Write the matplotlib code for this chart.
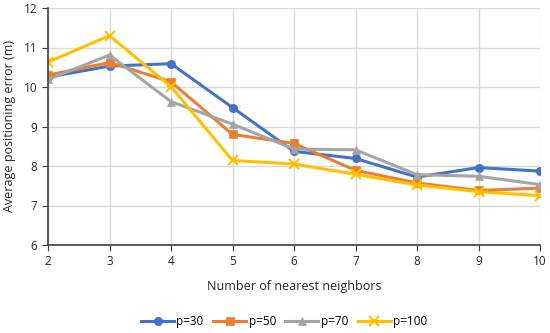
import matplotlib
matplotlib.use("Agg")
import matplotlib.pyplot as plt

neighbors = [2, 3, 4, 5, 6, 7, 8, 9, 10]
p30 = [10.25, 10.53, 10.59, 9.48, 8.37, 8.19, 7.72, 7.96, 7.87]
p50 = [10.30, 10.62, 10.13, 8.80, 8.57, 7.89, 7.57, 7.38, 7.44]
p70 = [10.19, 10.81, 9.63, 9.06, 8.43, 8.41, 7.78, 7.74, 7.53]
p100 = [10.63, 11.30, 10.01, 8.14, 8.05, 7.79, 7.52, 7.35, 7.25]
labels = ["p=30", "p=50", "p=70", "p=100"]
colors = ["#4472C4", "#ED7D31", "#A5A5A5", "#FFC000"]
markers = ["o", "s", "^", "x"]

plt.rcParams['font.family'] = ['Open Sans', 'DejaVu Sans']
fig = plt.figure(figsize=(5.5, 3.33), dpi=100)
ax = fig.add_axes([48/550, 1-245/333, 492/550, 237/333])

for ys, lab, c, m in zip([p30, p50, p70, p100], labels, colors, markers):
    ax.plot(neighbors, ys, color=c, lw=2.2, marker=m, markersize=6 if m != "x" else 7,
            markeredgewidth=1.5 if m == "x" else 0.5, markeredgecolor=c, label=lab)

ax.set_xlim(2, 10)
ax.set_ylim(6, 12)
ax.set_xticks(neighbors)
ax.set_yticks([6, 7, 8, 9, 10, 11, 12])
ax.grid(True, color="#D9D9D9", lw=1)
ax.set_axisbelow(True)
for s in ["top", "right"]:
    ax.spines[s].set_visible(False)
for s in ["left", "bottom"]:
    ax.spines[s].set_color("#404040")
    ax.spines[s].set_linewidth(1.2)
ax.tick_params(axis="both", labelsize=8.5, length=4, color="#404040", labelcolor="#262626")
ax.set_xlabel("Number of nearest neighbors", fontsize=9, color="#262626", labelpad=8)
ax.set_ylabel("Average positioning error (m)", fontsize=9, color="#262626", labelpad=6)
ax.legend(loc="center", bbox_to_anchor=(0.5 - 0.02, -(322-245)/237), ncol=4, frameon=False,
          fontsize=8.5, handlelength=2.8, handletextpad=0.2, columnspacing=0.8)
fig.savefig("out.png", dpi=100)
